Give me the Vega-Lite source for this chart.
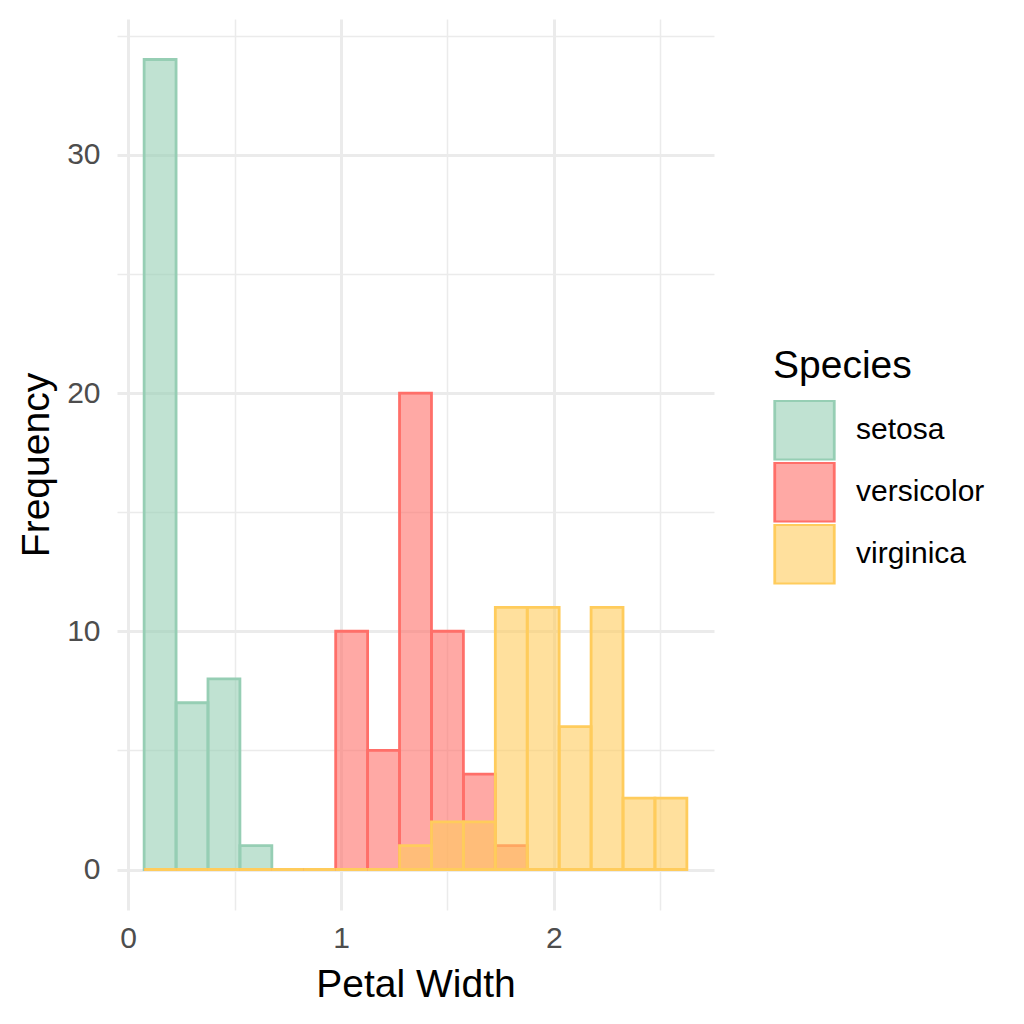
{
  "$schema": "https://vega.github.io/schema/vega-lite/v6.json",
  "width": 597,
  "height": 891,
  "autosize": "none",
  "padding": {"left": 117, "top": 19, "right": 310, "bottom": 114},
  "background": "white",
  "config": {
    "view": {"stroke": null},
    "font": "Liberation Sans"
  },
  "data": {
    "values": [
      {"bin_start": 0.075, "bin_end": 0.225, "count": 34, "species": "setosa"},
      {"bin_start": 0.225, "bin_end": 0.375, "count": 7, "species": "setosa"},
      {"bin_start": 0.375, "bin_end": 0.525, "count": 8, "species": "setosa"},
      {"bin_start": 0.525, "bin_end": 0.675, "count": 1, "species": "setosa"},
      {"bin_start": 0.675, "bin_end": 0.825, "count": 0, "species": "setosa"},
      {"bin_start": 0.825, "bin_end": 0.975, "count": 0, "species": "setosa"},
      {"bin_start": 0.975, "bin_end": 1.125, "count": 0, "species": "setosa"},
      {"bin_start": 1.125, "bin_end": 1.275, "count": 0, "species": "setosa"},
      {"bin_start": 1.275, "bin_end": 1.425, "count": 0, "species": "setosa"},
      {"bin_start": 1.425, "bin_end": 1.575, "count": 0, "species": "setosa"},
      {"bin_start": 1.575, "bin_end": 1.725, "count": 0, "species": "setosa"},
      {"bin_start": 1.725, "bin_end": 1.875, "count": 0, "species": "setosa"},
      {"bin_start": 1.875, "bin_end": 2.025, "count": 0, "species": "setosa"},
      {"bin_start": 2.025, "bin_end": 2.175, "count": 0, "species": "setosa"},
      {"bin_start": 2.175, "bin_end": 2.325, "count": 0, "species": "setosa"},
      {"bin_start": 2.325, "bin_end": 2.475, "count": 0, "species": "setosa"},
      {"bin_start": 2.475, "bin_end": 2.625, "count": 0, "species": "setosa"},
      {"bin_start": 0.075, "bin_end": 0.225, "count": 0, "species": "versicolor"},
      {"bin_start": 0.225, "bin_end": 0.375, "count": 0, "species": "versicolor"},
      {"bin_start": 0.375, "bin_end": 0.525, "count": 0, "species": "versicolor"},
      {"bin_start": 0.525, "bin_end": 0.675, "count": 0, "species": "versicolor"},
      {"bin_start": 0.675, "bin_end": 0.825, "count": 0, "species": "versicolor"},
      {"bin_start": 0.825, "bin_end": 0.975, "count": 0, "species": "versicolor"},
      {"bin_start": 0.975, "bin_end": 1.125, "count": 10, "species": "versicolor"},
      {"bin_start": 1.125, "bin_end": 1.275, "count": 5, "species": "versicolor"},
      {"bin_start": 1.275, "bin_end": 1.425, "count": 20, "species": "versicolor"},
      {"bin_start": 1.425, "bin_end": 1.575, "count": 10, "species": "versicolor"},
      {"bin_start": 1.575, "bin_end": 1.725, "count": 4, "species": "versicolor"},
      {"bin_start": 1.725, "bin_end": 1.875, "count": 1, "species": "versicolor"},
      {"bin_start": 1.875, "bin_end": 2.025, "count": 0, "species": "versicolor"},
      {"bin_start": 2.025, "bin_end": 2.175, "count": 0, "species": "versicolor"},
      {"bin_start": 2.175, "bin_end": 2.325, "count": 0, "species": "versicolor"},
      {"bin_start": 2.325, "bin_end": 2.475, "count": 0, "species": "versicolor"},
      {"bin_start": 2.475, "bin_end": 2.625, "count": 0, "species": "versicolor"},
      {"bin_start": 0.075, "bin_end": 0.225, "count": 0, "species": "virginica"},
      {"bin_start": 0.225, "bin_end": 0.375, "count": 0, "species": "virginica"},
      {"bin_start": 0.375, "bin_end": 0.525, "count": 0, "species": "virginica"},
      {"bin_start": 0.525, "bin_end": 0.675, "count": 0, "species": "virginica"},
      {"bin_start": 0.675, "bin_end": 0.825, "count": 0, "species": "virginica"},
      {"bin_start": 0.825, "bin_end": 0.975, "count": 0, "species": "virginica"},
      {"bin_start": 0.975, "bin_end": 1.125, "count": 0, "species": "virginica"},
      {"bin_start": 1.125, "bin_end": 1.275, "count": 0, "species": "virginica"},
      {"bin_start": 1.275, "bin_end": 1.425, "count": 1, "species": "virginica"},
      {"bin_start": 1.425, "bin_end": 1.575, "count": 2, "species": "virginica"},
      {"bin_start": 1.575, "bin_end": 1.725, "count": 2, "species": "virginica"},
      {"bin_start": 1.725, "bin_end": 1.875, "count": 11, "species": "virginica"},
      {"bin_start": 1.875, "bin_end": 2.025, "count": 11, "species": "virginica"},
      {"bin_start": 2.025, "bin_end": 2.175, "count": 6, "species": "virginica"},
      {"bin_start": 2.175, "bin_end": 2.325, "count": 11, "species": "virginica"},
      {"bin_start": 2.325, "bin_end": 2.475, "count": 3, "species": "virginica"},
      {"bin_start": 2.475, "bin_end": 2.625, "count": 3, "species": "virginica"}
    ]
  },
  "mark": {"type": "rect", "fillOpacity": 0.6, "strokeWidth": 2.8, "strokeOpacity": 1},
  "encoding": {
    "x": {
      "field": "bin_start",
      "type": "quantitative",
      "scale": {"domain": [-0.0525, 2.7525], "nice": false, "zero": false},
      "axis": {
        "title": "Petal Width",
        "values": [0, 0.5, 1, 1.5, 2, 2.5],
        "labelExpr": "datum.value % 1 === 0 ? format(datum.value, 'd') : ''",
        "domain": false,
        "ticks": false,
        "tickSize": 0,
        "labelPadding": 13,
        "labelFontSize": 30,
        "labelColor": "#4D4D4D",
        "labelFont": "Liberation Sans",
        "titleFont": "Liberation Sans",
        "titleFontSize": 39,
        "titleFontWeight": "normal",
        "titleColor": "#000000",
        "titlePadding": 12,
        "grid": true,
        "gridColor": "#EBEBEB",
        "gridWidth": {"condition": {"test": "datum.value % 1 === 0", "value": 3}, "value": 1.5}
      }
    },
    "x2": {"field": "bin_end"},
    "y": {
      "field": "count",
      "type": "quantitative",
      "scale": {"domain": [-1.7, 35.7], "nice": false, "zero": false},
      "axis": {
        "title": "Frequency",
        "values": [0, 5, 10, 15, 20, 25, 30, 35],
        "labelExpr": "datum.value % 10 === 0 ? datum.label : ''",
        "domain": false,
        "ticks": false,
        "tickSize": 0,
        "labelPadding": 17,
        "labelFontSize": 30,
        "labelColor": "#4D4D4D",
        "labelFont": "Liberation Sans",
        "titleFont": "Liberation Sans",
        "titleFontSize": 39,
        "titleFontWeight": "normal",
        "titleColor": "#000000",
        "titlePadding": 10,
        "grid": true,
        "gridColor": "#EBEBEB",
        "gridWidth": {"condition": {"test": "datum.value % 10 === 0", "value": 3}, "value": 1.5}
      }
    },
    "y2": {"datum": 0},
    "color": {
      "field": "species",
      "type": "nominal",
      "scale": {"domain": ["setosa", "versicolor", "virginica"], "range": ["#96CEB4", "#FF6F69", "#FFCC5C"]},
      "legend": {
        "title": "Species",
        "orient": "none",
        "legendX": 656,
        "legendY": 328,
        "padding": 0,
        "titleFont": "Liberation Sans",
        "titleFontSize": 39,
        "titleFontWeight": "normal",
        "titleColor": "#000000",
        "titlePadding": 14,
        "labelFont": "Liberation Sans",
        "labelFontSize": 30,
        "labelColor": "#000000",
        "labelOffset": 20,
        "symbolType": "square",
        "symbolSize": 3540,
        "symbolStrokeWidth": 2.8,
        "clipHeight": 60.5,
        "rowPadding": 1,
        "symbolOffset": 0,
        "encode": {"symbols": {"update": {"fillOpacity": {"value": 0.6}, "strokeOpacity": {"value": 1}}}}
      }
    },
    "stroke": {
      "field": "species",
      "type": "nominal",
      "scale": {"domain": ["setosa", "versicolor", "virginica"], "range": ["#96CEB4", "#FF6F69", "#FFCC5C"]},
      "legend": {
        "title": "Species",
        "orient": "none",
        "legendX": 656,
        "legendY": 328
      }
    }
  }
}
